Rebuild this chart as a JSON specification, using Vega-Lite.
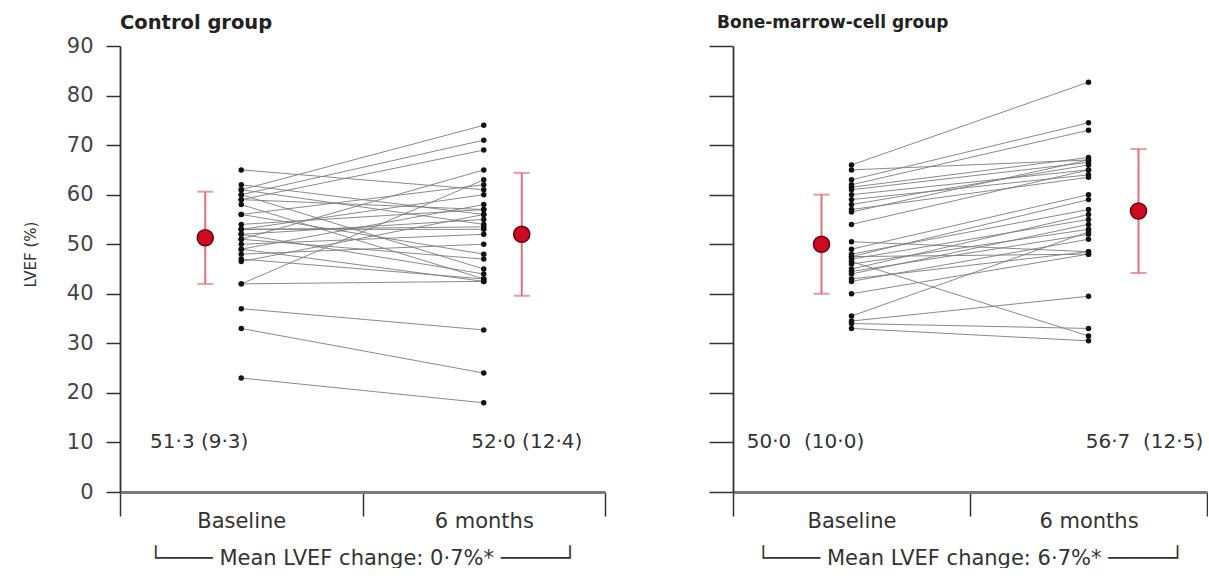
{
  "$schema": "https://vega.github.io/schema/vega-lite/v6.json",
  "background": "white",
  "padding": {"left": 23, "top": 12, "right": 0, "bottom": 0},
  "spacing": 102,
  "config": {
    "view": {"stroke": null},
    "font": "DejaVu Sans",
    "axis": {"grid": false}
  },
  "datasets": {
    "patients": [
      {"group": "Control", "id": 1, "Baseline": 65, "6 months": 61},
      {"group": "Control", "id": 2, "Baseline": 62, "6 months": 56},
      {"group": "Control", "id": 3, "Baseline": 61, "6 months": 74},
      {"group": "Control", "id": 4, "Baseline": 61, "6 months": 54},
      {"group": "Control", "id": 5, "Baseline": 60, "6 months": 71},
      {"group": "Control", "id": 6, "Baseline": 60, "6 months": 45},
      {"group": "Control", "id": 7, "Baseline": 59, "6 months": 69},
      {"group": "Control", "id": 8, "Baseline": 59, "6 months": 57},
      {"group": "Control", "id": 9, "Baseline": 58, "6 months": 43},
      {"group": "Control", "id": 10, "Baseline": 56, "6 months": 62},
      {"group": "Control", "id": 11, "Baseline": 56, "6 months": 48},
      {"group": "Control", "id": 12, "Baseline": 54, "6 months": 57},
      {"group": "Control", "id": 13, "Baseline": 53, "6 months": 53.5},
      {"group": "Control", "id": 14, "Baseline": 53, "6 months": 53},
      {"group": "Control", "id": 15, "Baseline": 53, "6 months": 60},
      {"group": "Control", "id": 16, "Baseline": 52, "6 months": 44},
      {"group": "Control", "id": 17, "Baseline": 52, "6 months": 55},
      {"group": "Control", "id": 18, "Baseline": 51, "6 months": 65},
      {"group": "Control", "id": 19, "Baseline": 51, "6 months": 47},
      {"group": "Control", "id": 20, "Baseline": 50, "6 months": 52},
      {"group": "Control", "id": 21, "Baseline": 49, "6 months": 58},
      {"group": "Control", "id": 22, "Baseline": 49, "6 months": 42.5},
      {"group": "Control", "id": 23, "Baseline": 48, "6 months": 50},
      {"group": "Control", "id": 24, "Baseline": 47, "6 months": 43},
      {"group": "Control", "id": 25, "Baseline": 46.5, "6 months": 56},
      {"group": "Control", "id": 26, "Baseline": 42, "6 months": 63},
      {"group": "Control", "id": 27, "Baseline": 42, "6 months": 42.5},
      {"group": "Control", "id": 28, "Baseline": 37, "6 months": 32.7},
      {"group": "Control", "id": 29, "Baseline": 33, "6 months": 24},
      {"group": "Control", "id": 30, "Baseline": 23, "6 months": 18},
      {"group": "BMC", "id": 31, "Baseline": 66, "6 months": 82.7},
      {"group": "BMC", "id": 32, "Baseline": 65, "6 months": 67},
      {"group": "BMC", "id": 33, "Baseline": 63, "6 months": 74.5},
      {"group": "BMC", "id": 34, "Baseline": 62, "6 months": 73},
      {"group": "BMC", "id": 35, "Baseline": 61.5, "6 months": 67.5},
      {"group": "BMC", "id": 36, "Baseline": 61, "6 months": 66.5},
      {"group": "BMC", "id": 37, "Baseline": 60, "6 months": 65},
      {"group": "BMC", "id": 38, "Baseline": 59, "6 months": 64},
      {"group": "BMC", "id": 39, "Baseline": 58, "6 months": 66},
      {"group": "BMC", "id": 40, "Baseline": 57, "6 months": 63.5},
      {"group": "BMC", "id": 41, "Baseline": 56.5, "6 months": 67},
      {"group": "BMC", "id": 42, "Baseline": 54, "6 months": 65},
      {"group": "BMC", "id": 43, "Baseline": 50.5, "6 months": 48.5},
      {"group": "BMC", "id": 44, "Baseline": 49, "6 months": 60},
      {"group": "BMC", "id": 45, "Baseline": 48, "6 months": 57},
      {"group": "BMC", "id": 46, "Baseline": 47.5, "6 months": 59},
      {"group": "BMC", "id": 47, "Baseline": 47.5, "6 months": 48},
      {"group": "BMC", "id": 48, "Baseline": 47, "6 months": 55},
      {"group": "BMC", "id": 49, "Baseline": 46.5, "6 months": 31.5},
      {"group": "BMC", "id": 50, "Baseline": 46, "6 months": 53},
      {"group": "BMC", "id": 51, "Baseline": 45, "6 months": 56},
      {"group": "BMC", "id": 52, "Baseline": 44.5, "6 months": 52},
      {"group": "BMC", "id": 53, "Baseline": 44, "6 months": 54},
      {"group": "BMC", "id": 54, "Baseline": 43, "6 months": 48.5},
      {"group": "BMC", "id": 55, "Baseline": 42.5, "6 months": 51},
      {"group": "BMC", "id": 56, "Baseline": 40, "6 months": 48},
      {"group": "BMC", "id": 57, "Baseline": 35.5, "6 months": 52.5},
      {"group": "BMC", "id": 58, "Baseline": 34.5, "6 months": 39.5},
      {"group": "BMC", "id": 59, "Baseline": 34, "6 months": 33},
      {"group": "BMC", "id": 60, "Baseline": 33, "6 months": 30.5}
    ],
    "means": [
      {"group": "Control", "visit": "Baseline", "mean": 51.3, "lo": 42.0, "hi": 60.6, "label": "51·3 (9·3)"},
      {"group": "Control", "visit": "6 months", "mean": 52.0, "lo": 39.6, "hi": 64.4, "label": "52·0 (12·4)"},
      {"group": "BMC", "visit": "Baseline", "mean": 50.0, "lo": 40.0, "hi": 60.0, "label": "50·0\u00a0 (10·0)"},
      {"group": "BMC", "visit": "6 months", "mean": 56.7, "lo": 44.2, "hi": 69.2, "label": "56·7\u00a0 (12·5)"}
    ]
  },
  "hconcat": [
    {
      "width": 485,
      "height": 446,
      "title": {"text": "Control group", "anchor": "start", "frame": "group", "fontSize": 19.5, "fontWeight": "bold", "color": "#222", "offset": 2},
      "encoding": {
        "x": {
          "field": "visit", "type": "nominal",
          "scale": {"domain": ["Baseline", "6 months"], "paddingInner": 0, "paddingOuter": 0},
          "axis": {
            "title": "└──── Mean LVEF change: 0·7%* ─────┘",
            "titleFontSize": 21, "titleFontWeight": "normal", "titleColor": "#333", "titlePadding": 16,
            "labelAngle": 0, "labelFontSize": 21, "labelColor": "#333", "labelPadding": -6,
            "tickBand": "extent", "tickSize": 24, "tickColor": "#333", "tickWidth": 1.5,
            "domainColor": "#7a7a7a", "domainWidth": 3
          }
        }
      },
      "layer": [
        {
          "data": {"name": "patients"},
          "transform": [
            {"filter": "datum.group === 'Control'"},
            {"fold": ["Baseline", "6 months"], "as": ["visit", "lvef"]}
          ],
          "layer": [
            {
              "mark": {"type": "line", "color": "#7d7d7d", "strokeWidth": 0.9},
              "encoding": {
                "y": {
                  "field": "lvef", "type": "quantitative",
                  "scale": {"domain": [0, 90]},
                  "axis": {
                    "title": "LVEF (%)", "titleFontSize": 15, "titleFontWeight": "normal", "titleColor": "#333", "titlePadding": 28, "titleY": 208,
                    "values": [0, 10, 20, 30, 40, 50, 60, 70, 80, 90],
                    "labelFontSize": 21, "labelColor": "#444", "labelPadding": 13,
                    "tickSize": 14, "tickColor": "#333", "tickWidth": 1.5,
                    "domainColor": "#333", "domainWidth": 1.8
                  }
                },
                "detail": {"field": "id", "type": "nominal"}
              }
            },
            {
              "mark": {"type": "point", "filled": true, "color": "#111", "size": 30, "opacity": 1},
              "encoding": {"y": {"field": "lvef", "type": "quantitative"}}
            }
          ]
        },
        {
          "data": {"name": "means"},
          "transform": [{"filter": "datum.group === 'Control' && datum.visit === 'Baseline'"}],
          "layer": [
            {"mark": {"type": "rule", "xOffset": -36, "color": "#e0707e", "strokeWidth": 2}, "encoding": {"y": {"field": "lo", "type": "quantitative"}, "y2": {"field": "hi"}}},
            {"mark": {"type": "tick", "xOffset": -36, "color": "#e0707e", "size": 16, "thickness": 2}, "encoding": {"y": {"field": "lo", "type": "quantitative"}}},
            {"mark": {"type": "tick", "xOffset": -36, "color": "#e0707e", "size": 16, "thickness": 2}, "encoding": {"y": {"field": "hi", "type": "quantitative"}}},
            {"mark": {"type": "point", "xOffset": -36, "filled": true, "color": "#cc0b22", "stroke": "#6a0010", "strokeWidth": 1.5, "size": 260, "opacity": 1}, "encoding": {"y": {"field": "mean", "type": "quantitative"}}},
            {"mark": {"type": "text", "dx": -42, "fontSize": 20, "color": "#333", "align": "center", "baseline": "middle"}, "encoding": {"y": {"datum": 10, "type": "quantitative"}, "text": {"field": "label"}}}
          ]
        },
        {
          "data": {"name": "means"},
          "transform": [{"filter": "datum.group === 'Control' && datum.visit === '6 months'"}],
          "layer": [
            {"mark": {"type": "rule", "xOffset": 38, "color": "#e0707e", "strokeWidth": 2}, "encoding": {"y": {"field": "lo", "type": "quantitative"}, "y2": {"field": "hi"}}},
            {"mark": {"type": "tick", "xOffset": 38, "color": "#e0707e", "size": 16, "thickness": 2}, "encoding": {"y": {"field": "lo", "type": "quantitative"}}},
            {"mark": {"type": "tick", "xOffset": 38, "color": "#e0707e", "size": 16, "thickness": 2}, "encoding": {"y": {"field": "hi", "type": "quantitative"}}},
            {"mark": {"type": "point", "xOffset": 38, "filled": true, "color": "#cc0b22", "stroke": "#6a0010", "strokeWidth": 1.5, "size": 260, "opacity": 1}, "encoding": {"y": {"field": "mean", "type": "quantitative"}}},
            {"mark": {"type": "text", "dx": 43, "fontSize": 20, "color": "#333", "align": "center", "baseline": "middle"}, "encoding": {"y": {"datum": 10, "type": "quantitative"}, "text": {"field": "label"}}}
          ]
        }
      ]
    },
    {
      "width": 474,
      "height": 446,
      "title": {"text": "Bone-marrow-cell group", "anchor": "start", "frame": "group", "dx": -16, "fontSize": 17, "fontWeight": "bold", "color": "#222", "offset": 13},
      "encoding": {
        "x": {
          "field": "visit", "type": "nominal",
          "scale": {"domain": ["Baseline", "6 months"], "paddingInner": 0, "paddingOuter": 0},
          "axis": {
            "title": "└──── Mean LVEF change: 6·7%* ─────┘",
            "titleFontSize": 21, "titleFontWeight": "normal", "titleColor": "#333", "titlePadding": 16,
            "labelAngle": 0, "labelFontSize": 21, "labelColor": "#333", "labelPadding": -6,
            "tickBand": "extent", "tickSize": 24, "tickColor": "#333", "tickWidth": 1.5,
            "domainColor": "#7a7a7a", "domainWidth": 3
          }
        }
      },
      "layer": [
        {
          "data": {"name": "patients"},
          "transform": [
            {"filter": "datum.group === 'BMC'"},
            {"fold": ["Baseline", "6 months"], "as": ["visit", "lvef"]}
          ],
          "layer": [
            {
              "mark": {"type": "line", "color": "#7d7d7d", "strokeWidth": 0.9},
              "encoding": {
                "y": {
                  "field": "lvef", "type": "quantitative",
                  "scale": {"domain": [0, 90]},
                  "axis": {
                    "title": null, "labels": false,
                    "values": [0, 10, 20, 30, 40, 50, 60, 70, 80, 90],
                    "tickSize": 24, "tickColor": "#333", "tickWidth": 1.5,
                    "domainColor": "#333", "domainWidth": 1.8
                  }
                },
                "detail": {"field": "id", "type": "nominal"}
              }
            },
            {
              "mark": {"type": "point", "filled": true, "color": "#111", "size": 30, "opacity": 1},
              "encoding": {"y": {"field": "lvef", "type": "quantitative"}}
            }
          ]
        },
        {
          "data": {"name": "means"},
          "transform": [{"filter": "datum.group === 'BMC' && datum.visit === 'Baseline'"}],
          "layer": [
            {"mark": {"type": "rule", "xOffset": -30, "color": "#e0707e", "strokeWidth": 2}, "encoding": {"y": {"field": "lo", "type": "quantitative"}, "y2": {"field": "hi"}}},
            {"mark": {"type": "tick", "xOffset": -30, "color": "#e0707e", "size": 16, "thickness": 2}, "encoding": {"y": {"field": "lo", "type": "quantitative"}}},
            {"mark": {"type": "tick", "xOffset": -30, "color": "#e0707e", "size": 16, "thickness": 2}, "encoding": {"y": {"field": "hi", "type": "quantitative"}}},
            {"mark": {"type": "point", "xOffset": -30, "filled": true, "color": "#cc0b22", "stroke": "#6a0010", "strokeWidth": 1.5, "size": 260, "opacity": 1}, "encoding": {"y": {"field": "mean", "type": "quantitative"}}},
            {"mark": {"type": "text", "dx": -46, "fontSize": 20, "color": "#333", "align": "center", "baseline": "middle"}, "encoding": {"y": {"datum": 10, "type": "quantitative"}, "text": {"field": "label"}}}
          ]
        },
        {
          "data": {"name": "means"},
          "transform": [{"filter": "datum.group === 'BMC' && datum.visit === '6 months'"}],
          "layer": [
            {"mark": {"type": "rule", "xOffset": 50, "color": "#e0707e", "strokeWidth": 2}, "encoding": {"y": {"field": "lo", "type": "quantitative"}, "y2": {"field": "hi"}}},
            {"mark": {"type": "tick", "xOffset": 50, "color": "#e0707e", "size": 16, "thickness": 2}, "encoding": {"y": {"field": "lo", "type": "quantitative"}}},
            {"mark": {"type": "tick", "xOffset": 50, "color": "#e0707e", "size": 16, "thickness": 2}, "encoding": {"y": {"field": "hi", "type": "quantitative"}}},
            {"mark": {"type": "point", "xOffset": 50, "filled": true, "color": "#cc0b22", "stroke": "#6a0010", "strokeWidth": 1.5, "size": 260, "opacity": 1}, "encoding": {"y": {"field": "mean", "type": "quantitative"}}},
            {"mark": {"type": "text", "dx": 56, "fontSize": 20, "color": "#333", "align": "center", "baseline": "middle"}, "encoding": {"y": {"datum": 10, "type": "quantitative"}, "text": {"field": "label"}}}
          ]
        }
      ]
    }
  ]
}
